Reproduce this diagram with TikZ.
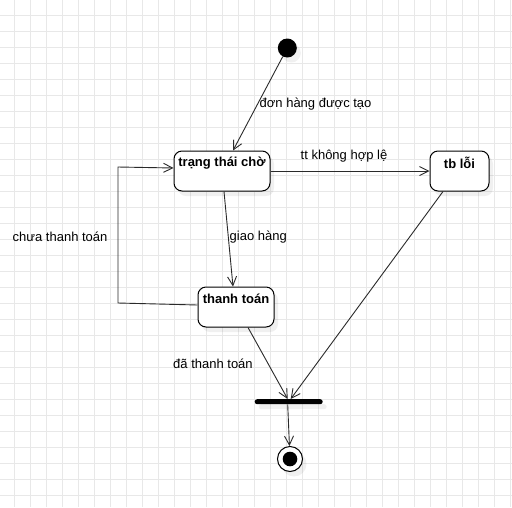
\documentclass[tikz,border=0pt]{standalone}
\usepackage{fontspec}
\setmainfont{Liberation Sans}
\usetikzlibrary{arrows.meta,shadows,calc}
\definecolor{gridc}{HTML}{E8E8E8}
\definecolor{linec}{HTML}{2A2A2A}
\begin{document}
\begin{tikzpicture}[x=1pt,y=-1pt,
  every node/.style={font=\fontsize{13}{15}\selectfont},
  shad/.style={drop shadow={shadow xshift=4pt,shadow yshift=-5pt,opacity=0.06,fill=black}},
  statebox/.style={draw=black,line width=1pt,rounded corners=8pt,fill=white,shad,minimum height=40pt,inner sep=0pt},
  statelabel/.style={font=\fontsize{13}{15}\selectfont\bfseries,inner sep=0pt},
  edgelabel/.style={inner sep=0pt,anchor=west},
  conn/.style={draw=linec,line width=0.9pt,-{Straight Barb[length=9pt,width=9pt]}},
]
\useasboundingbox (0,0) rectangle (512,507);
\fill[white] (0,0) rectangle (512,507);
\foreach \i in {0,...,31} \draw[gridc,line width=1pt] (14.5+16*\i,0) -- (14.5+16*\i,507);
\foreach \j in {0,...,30} \draw[gridc,line width=1pt] (0,15+16*\j) -- (512,15+16*\j);

% states
\node[circle,fill=black,minimum size=19pt,inner sep=0pt,shad] (init) at (287.3,48) {};
\node[statebox,minimum width=96pt] (tt) at (222,171) {};
\node[statelabel] (ttl) at (222,163) {trạng thái chờ};
\node[statebox,minimum width=59pt] (tb) at (459.5,171) {};
\node[statelabel] (tbl) at (459.5,163) {tb lỗi};
\node[statebox,minimum width=76pt] (th) at (236,307) {};
\node[statelabel] (thl) at (236,299) {thanh toán};
\node[fill=black,minimum width=68pt,minimum height=5pt,inner sep=0pt,rounded corners=2.5pt,shad] (bar) at (288.7,401.7) {};
\node[circle,draw=black,line width=1pt,fill=white,minimum size=25pt,inner sep=0pt,shad] (fin) at (290,459) {};
\fill[black] (fin.center) circle (7.3);

\coordinate (lb) at (118,303);
\coordinate (lt) at (118,167);

% connectors
\draw[conn] (init) -- ([xshift=11pt]tt.north);
\draw[conn] (tt.east) -- (tb.west);
\draw[conn] ([xshift=2pt]tt.south) -- ([xshift=-3pt]th.north);
\draw[conn] ([yshift=2pt]th.west) -- (lb) -- (lt) -- ([yshift=3pt]tt.west);
\draw[conn] ([xshift=12pt]th.south) -- ([xshift=-1pt]bar.north);
\draw[conn] ([xshift=-16.5pt]tb.south) -- ([xshift=2pt]bar.north);
\draw[conn] ([xshift=-1pt]bar.south) -- (fin);

% labels
\node[edgelabel] (l1) at (259.5,104) {đơn hàng được tạo};
\node[edgelabel] (l2) at (300.5,156) {tt không hợp lệ};
\node[edgelabel] (l3) at (229.5,237) {giao hàng};
\node[edgelabel] (l4) at (12.5,237) {chưa thanh toán};
\node[edgelabel] (l5) at (173,364) {đã thanh toán};
\end{tikzpicture}
\end{document}
